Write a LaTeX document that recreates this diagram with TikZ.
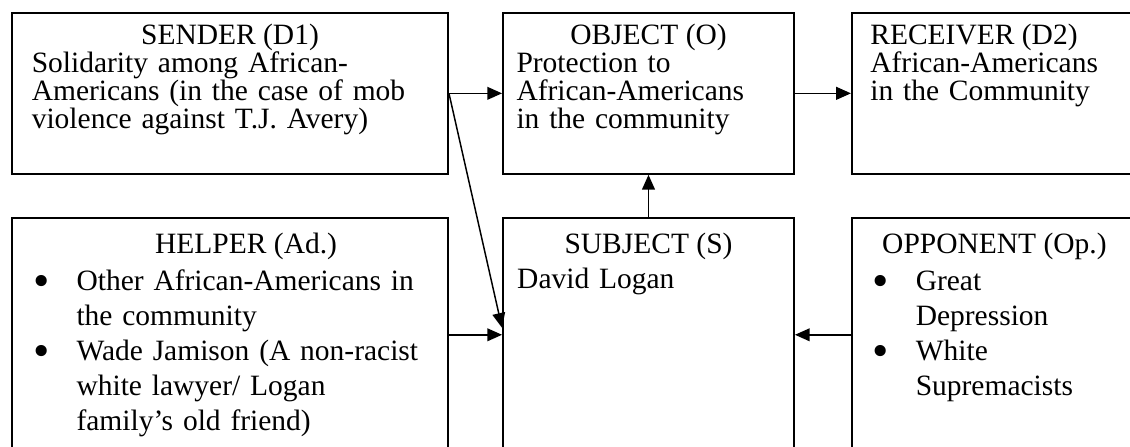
\documentclass[tikz,border=0pt]{standalone}
\usepackage{fontspec}
\setmainfont{Liberation Serif}
\usetikzlibrary{arrows.meta,positioning}

\newcommand{\bul}{\leavevmode\llap{\makebox[0pt]{\raisebox{-2.4pt}{\fontsize{19}{19}\selectfont\textbullet}}\hspace{0.5cm}}}

\begin{document}
\begin{tikzpicture}[
  box/.style={draw, line width=0.8pt, inner sep=0pt},
  ttl/.style={anchor=base, inner sep=0pt, font=\fontsize{12}{11.3}\selectfont},
  body/.style={anchor=base west, inner sep=0pt, text width=6cm,
               align=left, font=\fontsize{12}{11.3}\selectfont},
  lowbody/.style={body, font=\fontsize{12}{14.2}\selectfont},
  link/.style={line width=0.6pt, -{Triangle[length=6pt,width=5.2pt]}}
]
\clip (0,0) rectangle (16.16,6.39);

%% top row
\node[box, minimum width=6.235cm, minimum height=2.302cm] (sender)   at (3.289,5.055) {};
\node[box, minimum width=4.161cm, minimum height=2.302cm] (object)   at (9.274,5.055) {};
\node[box, minimum width=6.235cm, minimum height=2.302cm] (receiver) at (15.301,5.055) {};

%% bottom row
\node[box, minimum width=6.235cm, minimum height=3.346cm] (helper)   at (3.289,1.602) {};
\node[box, minimum width=4.161cm, minimum height=3.346cm] (subject)  at (9.274,1.602) {};
\node[box, minimum width=6.235cm, minimum height=3.346cm] (opponent) at (15.301,1.602) {};

%% titles
\node[ttl] (sendertitle)  at ([yshift=-0.472cm]sender.north) {SENDER (D1)};
\node[ttl] (objecttitle)  at ([yshift=-0.472cm]object.north) {OBJECT (O)};
\node[ttl, anchor=base west] (receivertitle) at ([xshift=0.27cm,yshift=-0.472cm]receiver.north west) {RECEIVER (D2)};
\node[ttl] (helpertitle)  at ([xshift=0.23cm,yshift=-0.53cm]helper.north) {HELPER (Ad.)};
\node[ttl] (subjecttitle) at ([yshift=-0.53cm]subject.north) {SUBJECT (S)};
\node[ttl, anchor=base west] (opponenttitle) at ([xshift=0.44cm,yshift=-0.53cm]opponent.north west) {OPPONENT (Op.)};

%% contents
\node[body] (sendertext) at ([xshift=0.29cm,yshift=-0.872cm]sender.north west)
  {Solidarity among African-\\Americans (in the case of mob\\violence against T.J. Avery)};
\node[body] (objecttext) at ([xshift=0.2cm,yshift=-0.872cm]object.north west)
  {Protection to\\African-Americans\\in the community};
\node[body] (receivertext) at ([xshift=0.27cm,yshift=-0.872cm]receiver.north west)
  {African-Americans\\in the Community};
\node[lowbody] (helpertext) at ([xshift=0.93cm,yshift=-1.058cm]helper.north west)
  {\bul Other African-Americans in\\the community\\\bul Wade Jamison (A non-racist\\white lawyer/ Logan\\family’s old friend)};
\node[lowbody] (subjecttext) at ([xshift=0.21cm,yshift=-1.03cm]subject.north west)
  {David Logan};
\node[lowbody] (opponenttext) at ([xshift=0.92cm,yshift=-1.058cm]opponent.north west)
  {\bul Great\\Depression\\\bul White\\Supremacists};

%% connectors
\draw[link] (sender.east) -- (object.west);
\draw[link] (object.east) -- (receiver.west);
\draw[link] (subject.north) -- (object.south);
\draw[link] (helper.east) -- (subject.west);
\draw[link] (opponent.west) -- (subject.east);
\draw[link] (sender.east) -- ([yshift=1mm]subject.west);

\end{tikzpicture}
\end{document}
